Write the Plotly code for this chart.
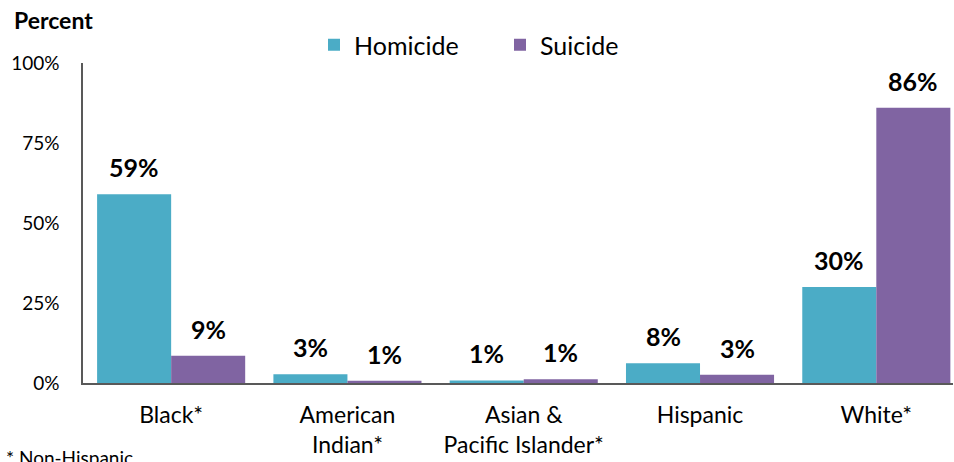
import plotly.graph_objects as go

categories = ["Black*", "American<br>Indian*", "Asian &<br>Pacific Islander*", "Hispanic", "White*"]
homicide_values = [59, 2.7, 0.8, 6.2, 30]
suicide_values = [8.5, 0.7, 1.2, 2.6, 86]
homicide_labels = ["59%", "3%", "1%", "8%", "30%"]
suicide_labels = ["9%", "1%", "1%", "3%", "86%"]
y_ticks = [0, 25, 50, 75, 100]

HOM = "#4BACC6"
SUI = "#8064A2"
FONT = "Lato"

fig = go.Figure()
fig.add_trace(go.Bar(x=list(range(5)), y=homicide_values, name="Homicide",
                     marker=dict(color=HOM, line=dict(width=0))))
fig.add_trace(go.Bar(x=list(range(5)), y=suicide_values, name="Suicide",
                     marker=dict(color=SUI, line=dict(width=0))))

annotations = []
for i in range(5):
    annotations.append(dict(x=i - 0.21, y=homicide_values[i], xref="x", yref="y",
                            text="<b>%s</b>" % homicide_labels[i], showarrow=False,
                            yanchor="bottom", yshift=10,
                            font=dict(family=FONT, size=25, color="#000000")))
    annotations.append(dict(x=i + 0.21, y=suicide_values[i], xref="x", yref="y",
                            text="<b>%s</b>" % suicide_labels[i], showarrow=False,
                            yanchor="bottom", yshift=10,
                            font=dict(family=FONT, size=25, color="#000000")))

W, H = 954, 462
L, R, T, B = 83, 1, 63, 79
pw, ph = W - L - R, H - T - B

def px_x(px):
    return (px - L) / pw

def px_y(py):
    return (H - B - py) / ph

annotations.append(dict(x=px_x(12), y=px_y(20), xref="paper", yref="paper",
                        text="<b>Percent</b>", showarrow=False, xanchor="left", yanchor="middle",
                        font=dict(family=FONT, size=23, color="#000000")))
annotations.append(dict(x=px_x(4), y=px_y(457), xref="paper", yref="paper",
                        text="* Non-Hispanic", showarrow=False, xanchor="left", yanchor="middle",
                        font=dict(family=FONT, size=19, color="#000000")))

fig.update_layout(
    width=W, height=H,
    margin=dict(l=L, r=R, t=T, b=B),
    paper_bgcolor="white", plot_bgcolor="white",
    barmode="group", bargap=0.16, bargroupgap=0,
    font=dict(family=FONT, color="#000000"),
    showlegend=True,
    legend=dict(orientation="h", x=px_x(314), y=px_y(45),
                xanchor="left", yanchor="middle",
                font=dict(family=FONT, size=25, color="#000000"),
                bgcolor="rgba(0,0,0,0)", entrywidth=141, itemwidth=30),
    xaxis=dict(range=[-0.5, 4.435], tickmode="array", tickvals=list(range(5)),
               ticktext=categories, showline=True, linecolor="#595959", linewidth=1.5,
               ticks="", showgrid=False, zeroline=False,
               tickfont=dict(family=FONT, size=23, color="#000000"),
               ticklabelstandoff=11),
    yaxis=dict(range=[0, 100], tickmode="array", tickvals=y_ticks,
               ticktext=["%d%%" % v for v in y_ticks],
               showline=True, linecolor="#595959", linewidth=1.5,
               ticks="", showgrid=False, zeroline=False,
               tickfont=dict(family=FONT, size=19, color="#000000"),
               ticklabelstandoff=18),
    annotations=annotations,
)

fig.write_html("out.html", config={"displayModeBar": False})

with open("out.html", "r", encoding="utf-8") as f:
    html = f.read()
html = html.replace("<body>", '<body style="margin:0;padding:0;overflow:hidden">', 1)
with open("out.html", "w", encoding="utf-8") as f:
    f.write(html)
